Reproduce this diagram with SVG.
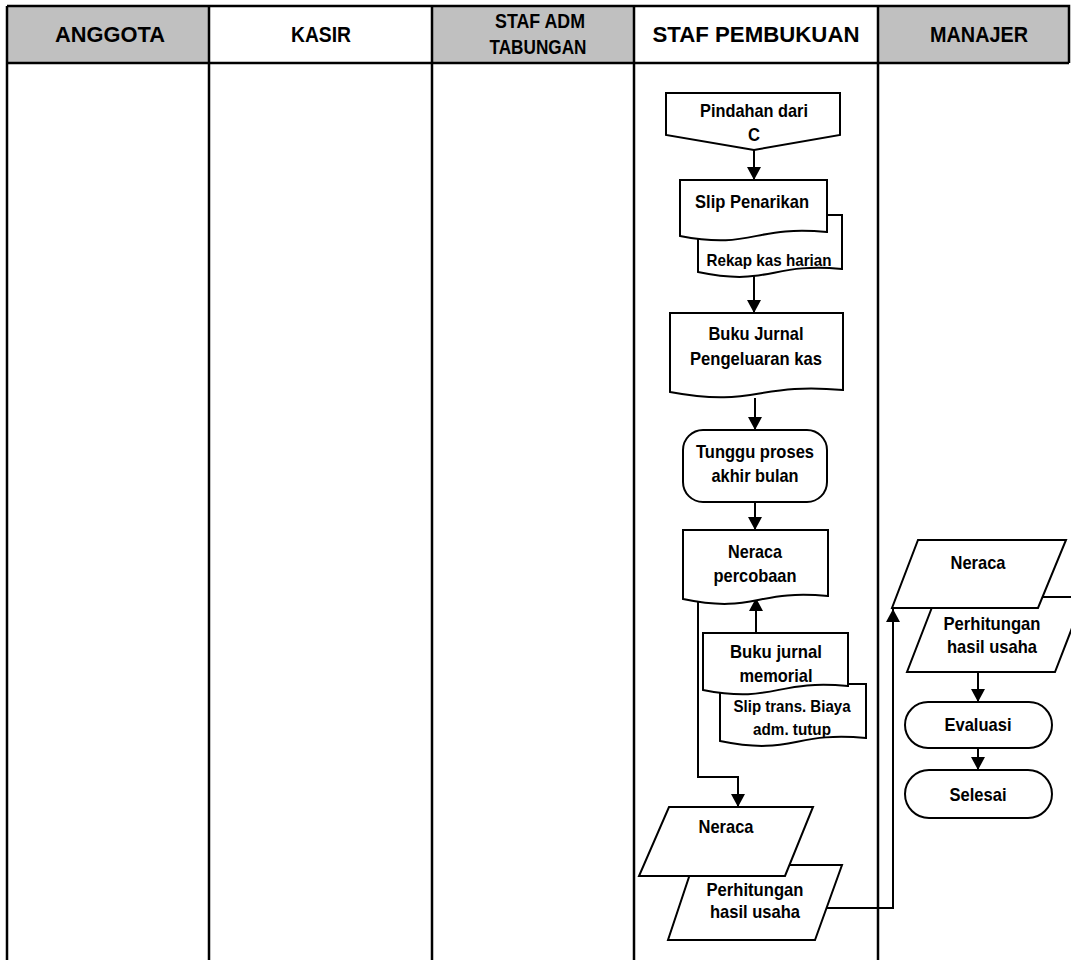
<svg xmlns="http://www.w3.org/2000/svg" width="1071" height="960" viewBox="0 0 1071 960">
<style>
.t{font-family:"Liberation Sans",Arial,sans-serif;font-weight:bold;fill:#000;text-anchor:middle}
.h{font-size:22px}
.h2{font-size:21px}
.n{font-size:19px}
.s{font-size:17px}
.sh{fill:#fff;stroke:#000;stroke-width:2;stroke-linejoin:miter}
.ln{fill:none;stroke:#000;stroke-width:2.5}
.c{fill:none;stroke:#000;stroke-width:2;marker-end:url(#ah)}
</style>
<defs>
<marker id="ah" viewBox="0 0 13 14" refX="13" refY="7" markerWidth="13" markerHeight="14" markerUnits="userSpaceOnUse" orient="auto">
<path d="M0,0 L13,7 L0,14 Z" fill="#000"/>
</marker>
</defs>
<rect width="1071" height="960" fill="#fff"/>
<g id="lanes">
<rect x="7" y="6" width="202" height="57" fill="#c0c0c0"/>
<rect x="432" y="6" width="202" height="57" fill="#c0c0c0"/>
<rect x="878" y="6" width="191" height="57" fill="#c0c0c0"/>
<path class="ln" d="M7,6 H1069 V63 M7,63 H1069 M7,6 V960 M209,6 V960 M432,6 V960 M634,6 V960 M878,6 V960"/>
<text class="t h" x="110" y="42" textLength="110" lengthAdjust="spacingAndGlyphs">ANGGOTA</text>
<text class="t h" x="321" y="42" textLength="60" lengthAdjust="spacingAndGlyphs">KASIR</text>
<text class="t h2" x="540" y="28" textLength="90" lengthAdjust="spacingAndGlyphs">STAF ADM</text>
<text class="t h2" x="538" y="54" textLength="97" lengthAdjust="spacingAndGlyphs">TABUNGAN</text>
<text class="t h" x="756" y="42" textLength="207" lengthAdjust="spacingAndGlyphs">STAF PEMBUKUAN</text>
<text class="t h" x="979" y="42" textLength="98" lengthAdjust="spacingAndGlyphs">MANAJER</text>
</g>
<g id="connectors">
<path class="c" d="M754,150 V180"/>
<path class="c" d="M754,273 V313"/>
<path class="c" d="M755,398 V430"/>
<path class="c" d="M755,502 V530"/>
<path class="c" d="M756,633 V598"/>
<path class="c" d="M698,601 V777 H738 V807"/>
<path class="c" d="M826,908 H893 V609"/>
<path class="c" d="M978,672 V702"/>
<path class="c" d="M978,748 V770"/>
</g>
<g id="n-pindahan">
<path class="sh" d="M666,93 H840 V135 L754,150 L666,135 Z"/>
<text class="t n" x="754" y="117" textLength="108" lengthAdjust="spacingAndGlyphs">Pindahan dari</text>
<text class="t n" x="754" y="141" textLength="12" lengthAdjust="spacingAndGlyphs">C</text>
</g>
<g id="n-rekap">
<path class="sh" d="M698,215 H842 V269 C770,262 770,287 698,272 Z"/>
<text class="t s" x="769" y="266" textLength="125" lengthAdjust="spacingAndGlyphs">Rekap kas harian</text>
</g>
<g id="n-slip-penarikan">
<path class="sh" d="M680,180 H827 V232 C753,225 753,250 680,236 Z"/>
<text class="t n" x="752" y="208" textLength="114" lengthAdjust="spacingAndGlyphs">Slip Penarikan</text>
</g>
<g id="n-buku-jurnal-kas">
<path class="sh" d="M670,313 H843 V390 C756,382 756,408 670,392 Z"/>
<text class="t n" x="756" y="340" textLength="95" lengthAdjust="spacingAndGlyphs">Buku Jurnal</text>
<text class="t n" x="756" y="365" textLength="132" lengthAdjust="spacingAndGlyphs">Pengeluaran kas</text>
</g>
<g id="n-tunggu">
<rect class="sh" x="683" y="430" width="144" height="72" rx="20" ry="20"/>
<text class="t n" x="755" y="458" textLength="118" lengthAdjust="spacingAndGlyphs">Tunggu proses</text>
<text class="t n" x="755" y="482" textLength="87" lengthAdjust="spacingAndGlyphs">akhir bulan</text>
</g>
<g id="n-neraca-percobaan">
<path class="sh" d="M683,530 H828 V596 C755,589 755,614 683,599 Z"/>
<text class="t n" x="755" y="558" textLength="54" lengthAdjust="spacingAndGlyphs">Neraca</text>
<text class="t n" x="755" y="582" textLength="83" lengthAdjust="spacingAndGlyphs">percobaan</text>
</g>
<g id="n-slip-trans">
<path class="sh" d="M720,684 H866 V738 C793,731 793,756 720,741 Z"/>
<text class="t s" x="792" y="712" textLength="117" lengthAdjust="spacingAndGlyphs">Slip trans. Biaya</text>
<text class="t s" x="792" y="735" textLength="78" lengthAdjust="spacingAndGlyphs">adm. tutup</text>
</g>
<g id="n-buku-memorial">
<path class="sh" d="M703,633 H848 V686 C775,679 775,704 703,690 Z"/>
<text class="t n" x="776" y="658" textLength="92" lengthAdjust="spacingAndGlyphs">Buku jurnal</text>
<text class="t n" x="776" y="682" textLength="73" lengthAdjust="spacingAndGlyphs">memorial</text>
</g>
<g id="n-perhitungan-1">
<path class="sh" d="M693,865 H842 L815,940 H668 Z"/>
<text class="t n" x="755" y="896" textLength="97" lengthAdjust="spacingAndGlyphs">Perhitungan</text>
<text class="t n" x="755" y="918" textLength="90" lengthAdjust="spacingAndGlyphs">hasil usaha</text>
</g>
<g id="n-neraca-1">
<path class="sh" d="M669,807 H813 L785,876 H639 Z"/>
<text class="t n" x="726" y="833" textLength="55" lengthAdjust="spacingAndGlyphs">Neraca</text>
</g>
<g id="n-perhitungan-2">
<path class="sh" d="M936,597 H1084 L1055,672 H907 Z"/>
<text class="t n" x="992" y="630" textLength="97" lengthAdjust="spacingAndGlyphs">Perhitungan</text>
<text class="t n" x="992" y="653" textLength="90" lengthAdjust="spacingAndGlyphs">hasil usaha</text>
</g>
<g id="n-neraca-2">
<path class="sh" d="M918,540 H1066 L1038,608 H892 Z"/>
<text class="t n" x="978" y="569" textLength="55" lengthAdjust="spacingAndGlyphs">Neraca</text>
</g>
<g id="n-evaluasi">
<rect class="sh" x="905" y="702" width="147" height="46" rx="23" ry="23"/>
<text class="t n" x="978" y="731" textLength="67" lengthAdjust="spacingAndGlyphs">Evaluasi</text>
</g>
<g id="n-selesai">
<rect class="sh" x="905" y="770" width="147" height="48" rx="24" ry="24"/>
<text class="t n" x="978" y="801" textLength="57" lengthAdjust="spacingAndGlyphs">Selesai</text>
</g>
</svg>
